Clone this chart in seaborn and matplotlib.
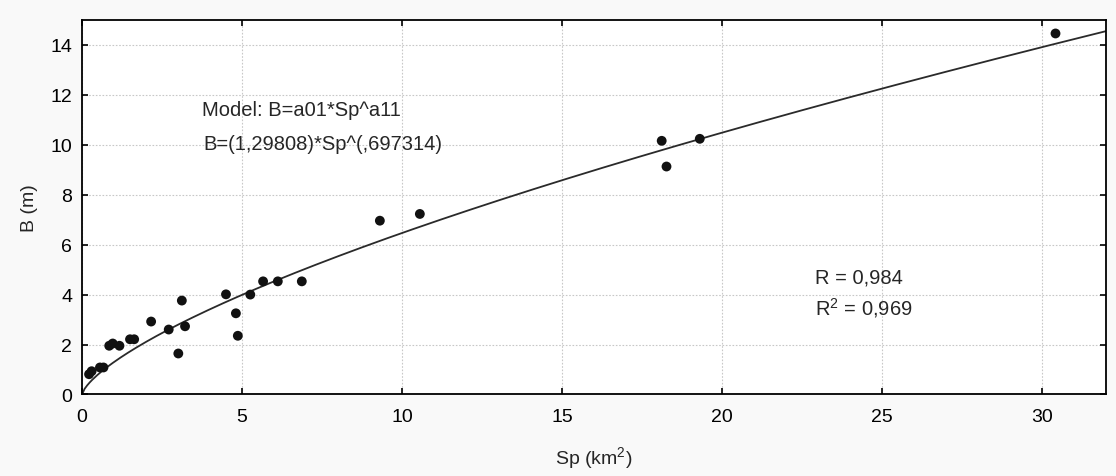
import numpy as np
import pandas as pd
import matplotlib
matplotlib.use("Agg")
import matplotlib.pyplot as plt
import seaborn as sns

sp_values = [0.22, 0.30, 0.56, 0.67, 0.85, 0.96, 1.17, 1.50, 1.63, 2.16,
             2.71, 3.01, 3.12, 3.22, 4.50, 4.81, 4.87, 5.26, 5.66, 6.12,
             6.87, 9.31, 10.56, 18.12, 18.27, 19.31, 30.43]
b_values = [0.81, 0.93, 1.08, 1.08, 1.95, 2.04, 1.95, 2.21, 2.21, 2.92,
            2.60, 1.64, 3.76, 2.73, 4.01, 3.25, 2.35, 4.00, 4.53, 4.53,
            4.53, 6.96, 7.23, 10.16, 9.13, 10.24, 14.46]

# Fitted model parameters (shown on the chart)
a01 = 1.29808
a11 = 0.697314

x_ticks = [0, 5, 10, 15, 20, 25, 30]
y_ticks = [0, 2, 4, 6, 8, 10, 12, 14]

sns.set_theme(style="white")
plt.rcParams['font.family'] = ['Liberation Sans', 'DejaVu Sans']
plt.rcParams['mathtext.fontset'] = 'custom'
plt.rcParams['mathtext.rm'] = 'Liberation Sans'

df = pd.DataFrame({"Sp": sp_values, "B": b_values})
curve_x = np.linspace(0, 32, 400)
curve = pd.DataFrame({"Sp": curve_x, "B": a01 * curve_x ** a11})

fig = plt.figure(figsize=(11.16, 4.77), dpi=100, facecolor="#f9f9f9")
ax = fig.add_axes([0.0735, 0.171, 0.9173, 0.785])
ax.set_facecolor("white")

sns.lineplot(data=curve, x="Sp", y="B", ax=ax, color="#2a2a2a", linewidth=1.3, zorder=2)
sns.scatterplot(data=df, x="Sp", y="B", ax=ax, color="#111111", s=50,
                edgecolor="none", zorder=3)

ax.set_xlim(0, 32)
ax.set_ylim(0, 15)
ax.set_xticks(x_ticks)
ax.set_yticks(y_ticks)
ax.set_xticklabels([str(t) for t in x_ticks])
ax.set_yticklabels([str(t) for t in y_ticks])
ax.grid(True, color="#c8c8c8", linestyle=(0, (1.5, 1.5)), linewidth=0.8)
ax.set_axisbelow(True)
ax.tick_params(direction="in", length=4, width=1.2, colors="black",
               labelsize=14, top=True, right=True, bottom=True, left=True,
               labeltop=False, labelright=False)
ax.tick_params(axis="x", pad=10)
ax.tick_params(axis="y", pad=7)
for s in ax.spines.values():
    s.set_visible(True)
    s.set_color("black")
    s.set_linewidth(1.3)

ax.set_xlabel("Sp (km$^{\\mathregular{2}}$)", fontsize=14, labelpad=14)
ax.set_ylabel("B (m)", fontsize=14, labelpad=9)

ax.text(3.75, 11.4, "Model: B=a01*Sp^a11", fontsize=14.5, ha="left", va="center")
ax.text(3.78, 10.05, "B=(1,29808)*Sp^(,697314)", fontsize=14.5, ha="left", va="center")
ax.text(22.9, 4.7, "R = 0,984", fontsize=14.5, ha="left", va="center")
ax.text(22.9, 3.5, "R$^{\\mathregular{2}}$ = 0,969", fontsize=14.5, ha="left", va="center")

fig.savefig("out.png", dpi=100, facecolor=fig.get_facecolor())
